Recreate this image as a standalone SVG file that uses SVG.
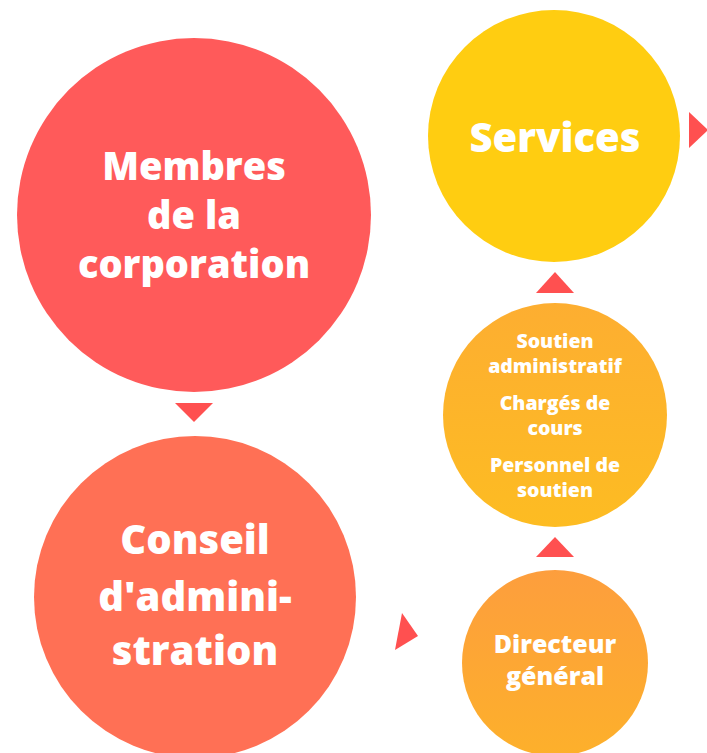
<svg xmlns="http://www.w3.org/2000/svg" width="707" height="753" viewBox="0 0 707 753">
<defs>
<linearGradient id="gMid" x1="0" y1="0" x2="0" y2="1"><stop offset="0" stop-color="#FDAE31"/><stop offset="1" stop-color="#FDBC22"/></linearGradient>
<linearGradient id="gDir" x1="0" y1="0" x2="0" y2="1"><stop offset="0" stop-color="#FD9E3D"/><stop offset="1" stop-color="#FDB02B"/></linearGradient>
<style>
text{font-family:"Open Sans","Noto Sans","DejaVu Sans",sans-serif;font-weight:800;fill:#FFFFFF;text-anchor:middle}
.arr{fill:#FF5050}
</style>
</defs>
<rect width="707" height="753" fill="#FFFFFF"/>
<g id="membres">
<circle cx="194" cy="215" r="177" fill="#FF5A5A"/>
<text x="194" y="180" font-size="38">Membres</text>
<text x="194" y="229" font-size="38">de la</text>
<text x="194" y="278" font-size="38">corporation</text>
</g>
<g id="conseil">
<circle cx="195" cy="597" r="161" fill="#FF7055"/>
<text x="195" y="554" font-size="40">Conseil</text>
<text x="195" y="611" font-size="40">d'admini-</text>
<text x="195" y="665" font-size="40">stration</text>
</g>
<g id="services">
<circle cx="554" cy="136" r="126" fill="#FFCD11"/>
<text x="555" y="152" font-size="40">Services</text>
</g>
<g id="soutien">
<circle cx="555" cy="415" r="112" fill="url(#gMid)"/>
<text x="555" y="348" font-size="19.5">Soutien</text>
<text x="555" y="373" font-size="19.5">administratif</text>
<text x="555" y="410" font-size="19.5">Chargés de</text>
<text x="555" y="435" font-size="19.5">cours</text>
<text x="555" y="472" font-size="19.5">Personnel de</text>
<text x="555" y="497" font-size="19.5">soutien</text>
</g>
<g id="directeur">
<circle cx="555" cy="663" r="93" fill="url(#gDir)"/>
<text x="555" y="653" font-size="25">Directeur</text>
<text x="555" y="685" font-size="25">général</text>
</g>
<g id="connectors">
<polygon class="arr" points="175,403 213,403 194,422"/>
<polygon class="arr" points="402,613 418,636 395,650"/>
<polygon class="arr" points="536,293 574,293 555,272"/>
<polygon class="arr" points="536,557 574,557 555,537"/>
<polygon class="arr" points="689,112 689,148 708,130"/>
</g>
</svg>
